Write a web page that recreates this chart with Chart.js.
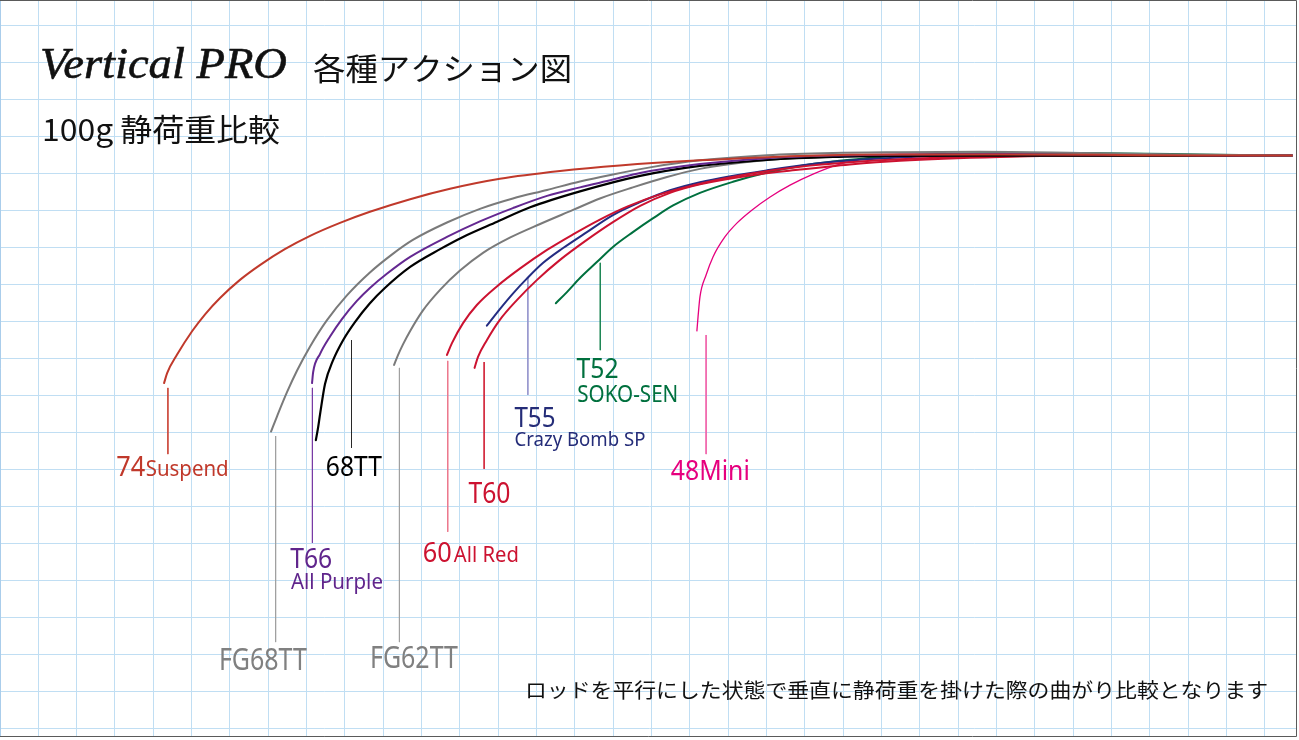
<!DOCTYPE html>
<html><head><meta charset="utf-8">
<script src="https://cdn.jsdelivr.net/npm/chart.js@4.4.1/dist/chart.umd.min.js"></script>
<style>html,body{margin:0;padding:0;background:#fff;overflow:hidden}#wrap{position:relative;width:1299px;height:740px}</style>
</head><body><div id="wrap"><canvas id="c" width="1299" height="740"></canvas></div>
<script>
// Grid: x in grid cells (1 cell = one vertical grid step), y in grid cells downward from the top grid line
const GRID_X_TICKS = [0,1,2,3,4,5,6,7,8,9,10,11,12,13,14,15,16,17,18,19,20,21,22,23,24,25,26,27,28,29,30,31,32,33];
const GRID_Y_TICKS = [0,1,2,3,4,5,6,7,8,9,10,11,12,13,14,15,16,17,18,19];

const rods = ['74Suspend','FG68TT','T66','68TT','FG62TT','60All Red','T60','T55','T52','48Mini'];

// Rod curves, tip -> butt: [x, y]
const s74Suspend = [[4.28,9.67],[4.36,9.40],[4.62,8.90],[5.01,8.27],[5.35,7.81],[5.74,7.37],[6.26,6.88],[6.78,6.48],[7.43,6.05],[8.09,5.69],[8.87,5.34],[9.65,5.04],[10.70,4.70],[11.74,4.42],[13.04,4.15],[14.61,3.94],[16.17,3.79],[18.26,3.65],[20.87,3.53],[23.48,3.49],[26.09,3.49],[28.70,3.50],[31.30,3.52],[33.70,3.52]];
const sFG68TT = [[7.07,10.98],[7.23,10.56],[7.49,9.91],[7.75,9.33],[8.09,8.68],[8.53,7.97],[9.05,7.30],[9.65,6.68],[10.23,6.19],[10.77,5.80],[11.66,5.33],[12.52,4.96],[13.38,4.68],[14.27,4.45],[15.13,4.22],[15.99,4.03],[16.96,3.84],[18.26,3.65],[20.01,3.51],[21.73,3.45],[23.48,3.43],[25.57,3.42],[28.17,3.45],[30.78,3.49],[33.70,3.52]];
const sT66 = [[8.14,9.67],[8.17,9.37],[8.35,8.88],[8.61,8.41],[8.92,7.94],[9.31,7.45],[9.65,7.10],[10.10,6.71],[10.70,6.26],[11.66,5.72],[12.52,5.30],[13.38,4.94],[14.27,4.61],[15.13,4.38],[15.99,4.17],[16.70,3.99],[18.26,3.75],[20.01,3.59],[21.73,3.52],[23.48,3.49],[26.09,3.48],[28.70,3.49],[31.30,3.51],[33.70,3.52]];
const s68TT = [[8.24,11.21],[8.30,10.86],[8.35,10.51],[8.48,9.69],[8.69,9.05],[8.95,8.51],[9.26,8.02],[9.65,7.51],[10.04,7.10],[10.70,6.53],[11.48,6.05],[12.08,5.72],[12.97,5.31],[13.83,4.92],[15.13,4.49],[16.70,4.07],[18.26,3.80],[20.01,3.64],[21.73,3.56],[23.48,3.53],[26.09,3.52],[28.70,3.52],[31.30,3.52],[33.70,3.52]];
const sFG62TT = [[10.28,9.18],[10.38,8.92],[10.51,8.63],[10.70,8.26],[11.03,7.71],[11.48,7.15],[12.00,6.63],[12.60,6.15],[13.30,5.74],[14.09,5.37],[14.95,4.99],[15.65,4.68],[16.51,4.38],[17.40,4.10],[18.26,3.88],[19.12,3.74],[20.43,3.61],[21.73,3.55],[23.48,3.52],[26.09,3.51],[28.70,3.51],[31.30,3.52],[33.70,3.52]];
const s60AllRed = [[11.66,8.91],[11.79,8.59],[12.08,8.05],[12.44,7.56],[12.97,7.05],[13.57,6.57],[14.27,6.07],[14.95,5.65],[15.65,5.25],[16.36,4.90],[17.22,4.57],[18.26,4.28],[19.57,4.01],[20.87,3.82],[22.17,3.70],[23.48,3.62],[26.09,3.54],[28.70,3.52],[31.30,3.52],[33.70,3.52]];
const sT60 = [[12.38,9.26],[12.47,8.96],[12.70,8.51],[13.04,7.96],[13.49,7.42],[14.01,6.88],[14.61,6.34],[15.31,5.80],[15.99,5.32],[16.70,4.88],[17.48,4.53],[18.26,4.30],[19.57,4.06],[20.87,3.90],[22.17,3.76],[23.48,3.66],[26.09,3.56],[28.70,3.52],[31.30,3.52],[33.70,3.52]];
const sT55 = [[12.70,8.12],[13.04,7.67],[13.38,7.25],[13.75,6.84],[14.17,6.42],[14.69,6.02],[15.31,5.59],[15.99,5.13],[16.70,4.78],[17.48,4.46],[18.26,4.24],[20.01,3.92],[21.73,3.69],[23.48,3.57],[26.09,3.50],[28.70,3.51],[31.30,3.52],[33.70,3.52]];
const sT52 = [[14.50,7.51],[14.79,7.21],[15.13,6.83],[15.57,6.40],[15.99,5.99],[16.51,5.59],[17.03,5.22],[17.56,4.87],[18.26,4.53],[19.12,4.23],[20.01,3.98],[20.87,3.80],[21.73,3.68],[22.62,3.59],[23.48,3.52],[26.09,3.45],[28.70,3.46],[31.30,3.49],[33.70,3.52]];
const s48Mini = [[18.18,8.26],[18.21,7.88],[18.26,7.34],[18.42,6.75],[18.60,6.26],[18.91,5.72],[19.23,5.34],[19.62,4.99],[20.09,4.64],[20.61,4.32],[21.21,4.02],[21.91,3.75],[22.62,3.59],[23.48,3.49],[26.09,3.48],[28.70,3.49],[31.30,3.51],[33.70,3.52]];

// Leader lines from each rod tip down to its label
const leaderX      = [4.38, 7.19, 8.15, 9.17, 10.42, 11.68, 12.63, 13.77, 15.66, 18.42];
const leaderTop    = [9.80, 11.10, 9.80, 8.51, 9.26, 9.07, 9.10, 6.83, 6.42, 8.37];
const leaderBottom = [11.59, 16.67, 13.99, 11.42, 16.67, 13.69, 11.99, 9.99, 8.78, 11.59];

// ---- styles (kept apart from the data) ----
const series = [s74Suspend, sFG68TT, sT66, s68TT, sFG62TT, s60AllRed, sT60, sT55, sT52, s48Mini];
const rodColors = ['rgb(192,57,43)','rgb(122,122,122)','rgb(100,40,145)','rgb(0,0,0)','rgb(122,122,122)','rgb(204,18,48)','rgb(204,18,48)','rgb(36,44,130)','rgb(0,112,62)','rgb(230,0,126)'];
const rodWidths = [2,2,2,2.2,2,2,2,2,2,1.3];
const leaderColors = ['rgb(205,75,62)','rgb(160,160,160)','rgb(120,60,165)','rgb(40,40,40)','rgb(160,160,160)','rgb(236,120,140)','rgb(210,40,60)','rgb(150,150,205)','rgb(30,135,85)','rgb(240,100,170)'];

const GRID_PX_X = 38.333, GRID_PX_Y = 37, GRID_TOP = 25.3;
const W = 1299, H = 740;

// label parts: text, anchor (grid units: left, baseline), font size, target width, color
const labelParts = [
  {t:'74', x:3.03, y:12.19, s:28, w:29, c:'rgb(192,57,43)'},
  {t:'Suspend', x:3.80, y:12.19, s:22, w:83, c:'rgb(192,57,43)'},
  {t:'FG68TT', x:5.71, y:17.42, s:30, w:88, c:'rgb(128,128,128)'},
  {t:'FG62TT', x:9.65, y:17.37, s:30, w:88, c:'rgb(128,128,128)'},
  {t:'T66', x:7.57, y:14.67, s:28, w:42, c:'rgb(96,37,140)'},
  {t:'All Purple', x:7.59, y:15.24, s:21, w:92, c:'rgb(96,37,140)'},
  {t:'68TT', x:8.50, y:12.18, s:28, w:56, c:'rgb(0,0,0)'},
  {t:'60', x:11.03, y:14.51, s:27, w:29, c:'rgb(204,18,48)'},
  {t:'All Red', x:11.84, y:14.51, s:22, w:65, c:'rgb(204,18,48)'},
  {t:'T60', x:12.22, y:12.90, s:29, w:42, c:'rgb(204,18,48)'},
  {t:'T55', x:13.42, y:10.85, s:28, w:41, c:'rgb(36,44,120)'},
  {t:'Crazy Bomb SP', x:13.42, y:11.37, s:20, w:131, c:'rgb(36,44,120)'},
  {t:'T52', x:15.04, y:9.54, s:28, w:42, c:'rgb(0,112,62)'},
  {t:'SOKO-SEN', x:15.06, y:10.17, s:23, w:101, c:'rgb(0,112,62)'},
  {t:'48Mini', x:17.50, y:12.29, s:28, w:79, c:'rgb(230,0,126)'}
];

const titleParts = [
  {t:'Vertical PRO', x:40, y:78, font:'italic 45px "Liberation Serif"', w:247, stroke:0.6},
  {t:'各種アクション図', x:313, y:79.5, font:'31px "Noto Sans CJK JP"', w:259, stroke:0},
  {t:'100g 静荷重比較', x:42, y:141, font:'31px "Noto Sans CJK JP"', w:238, stroke:0},
  {t:'ロッドを平行にした状態で垂直に静荷重を掛けた際の曲がり比較となります', x:525, y:698, font:'20px "Noto Sans CJK JP"', w:743, stroke:0}
];

function fitText(ctx, text, x, y, font, w, color, stroke){
  ctx.save();
  ctx.font = font;
  ctx.fillStyle = color;
  ctx.textBaseline = 'alphabetic';
  ctx.textAlign = 'left';
  const m = ctx.measureText(text).width;
  const sx = w / m;
  ctx.translate(x, y);
  ctx.scale(sx, 1);
  ctx.fillText(text, 0, 0);
  if (stroke) { ctx.strokeStyle = color; ctx.lineWidth = stroke; ctx.strokeText(text, 0, 0); }
  ctx.restore();
}

const datasets = [];
rods.forEach((name, i) => {
  datasets.push({
    label: name,
    data: series[i].map(p => ({x: p[0], y: p[1]})),
    borderColor: rodColors[i],
    borderWidth: rodWidths[i],
    pointRadius: 0,
    fill: false,
    cubicInterpolationMode: 'monotone',
    borderCapStyle: 'round',
    borderJoinStyle: 'round'
  });
});
rods.forEach((name, i) => {
  datasets.push({
    label: name + ' leader',
    data: [{x: leaderX[i], y: leaderTop[i]}, {x: leaderX[i], y: leaderBottom[i]}],
    borderColor: leaderColors[i],
    borderWidth: 1,
    pointRadius: 0,
    fill: false
  });
});

const textPlugin = {
  id: 'texts',
  beforeDraw(chart){
    const ctx = chart.ctx;
    ctx.save();
    ctx.fillStyle = '#fff';
    ctx.fillRect(0,0,chart.width,chart.height);
    ctx.restore();
  },
  afterDraw(chart){
    const ctx = chart.ctx;
    const xs = chart.scales.x, ys = chart.scales.y;
    labelParts.forEach(l => {
      fitText(ctx, l.t, xs.getPixelForValue(l.x), ys.getPixelForValue(l.y), l.s + 'px "Noto Sans"', l.w, l.c, 0);
    });
    titleParts.forEach(t => fitText(ctx, t.t, t.x, t.y, t.font, t.w, '#111', t.stroke));
    // frame
    ctx.save();
    ctx.fillStyle = '#fff';
    ctx.fillRect(1297, 0, 2, H);
    ctx.fillRect(0, 737, W, 3);
    ctx.strokeStyle = '#5a5a5a';
    ctx.lineWidth = 1;
    ctx.beginPath();
    ctx.moveTo(0, 0.5); ctx.lineTo(1296.5, 0.5);
    ctx.lineTo(1296.5, 736.5); ctx.lineTo(0, 736.5);
    ctx.stroke();
    ctx.strokeStyle = 'rgb(170,205,235)';
    ctx.beginPath(); ctx.moveTo(0.5, 1); ctx.lineTo(0.5, 736); ctx.stroke();
    ctx.restore();
  }
};

const gridColor = 'rgb(192,222,243)';
new Chart(document.getElementById('c'), {
  type: 'line',
  data: { datasets },
  options: {
    responsive: false,
    devicePixelRatio: 1,
    animation: false,
    events: [],
    layout: { padding: 0 },
    plugins: { legend: { display: false }, tooltip: { enabled: false }, title: { display: false } },
    scales: {
      x: {
        type: 'linear',
        min: 0, max: W / GRID_PX_X,
        ticks: { display: false },
        border: { display: false },
        grid: { color: gridColor, lineWidth: 1, drawTicks: false },
        afterBuildTicks: s => { s.ticks = GRID_X_TICKS.map(v => ({value: v})); }
      },
      y: {
        type: 'linear',
        reverse: true,
        min: -GRID_TOP / GRID_PX_Y, max: (H - GRID_TOP) / GRID_PX_Y,
        ticks: { display: false },
        border: { display: false },
        grid: { color: gridColor, lineWidth: 1, drawTicks: false },
        afterBuildTicks: s => { s.ticks = GRID_Y_TICKS.map(v => ({value: v})); }
      }
    }
  },
  plugins: [textPlugin]
});
</script>
</body></html>
